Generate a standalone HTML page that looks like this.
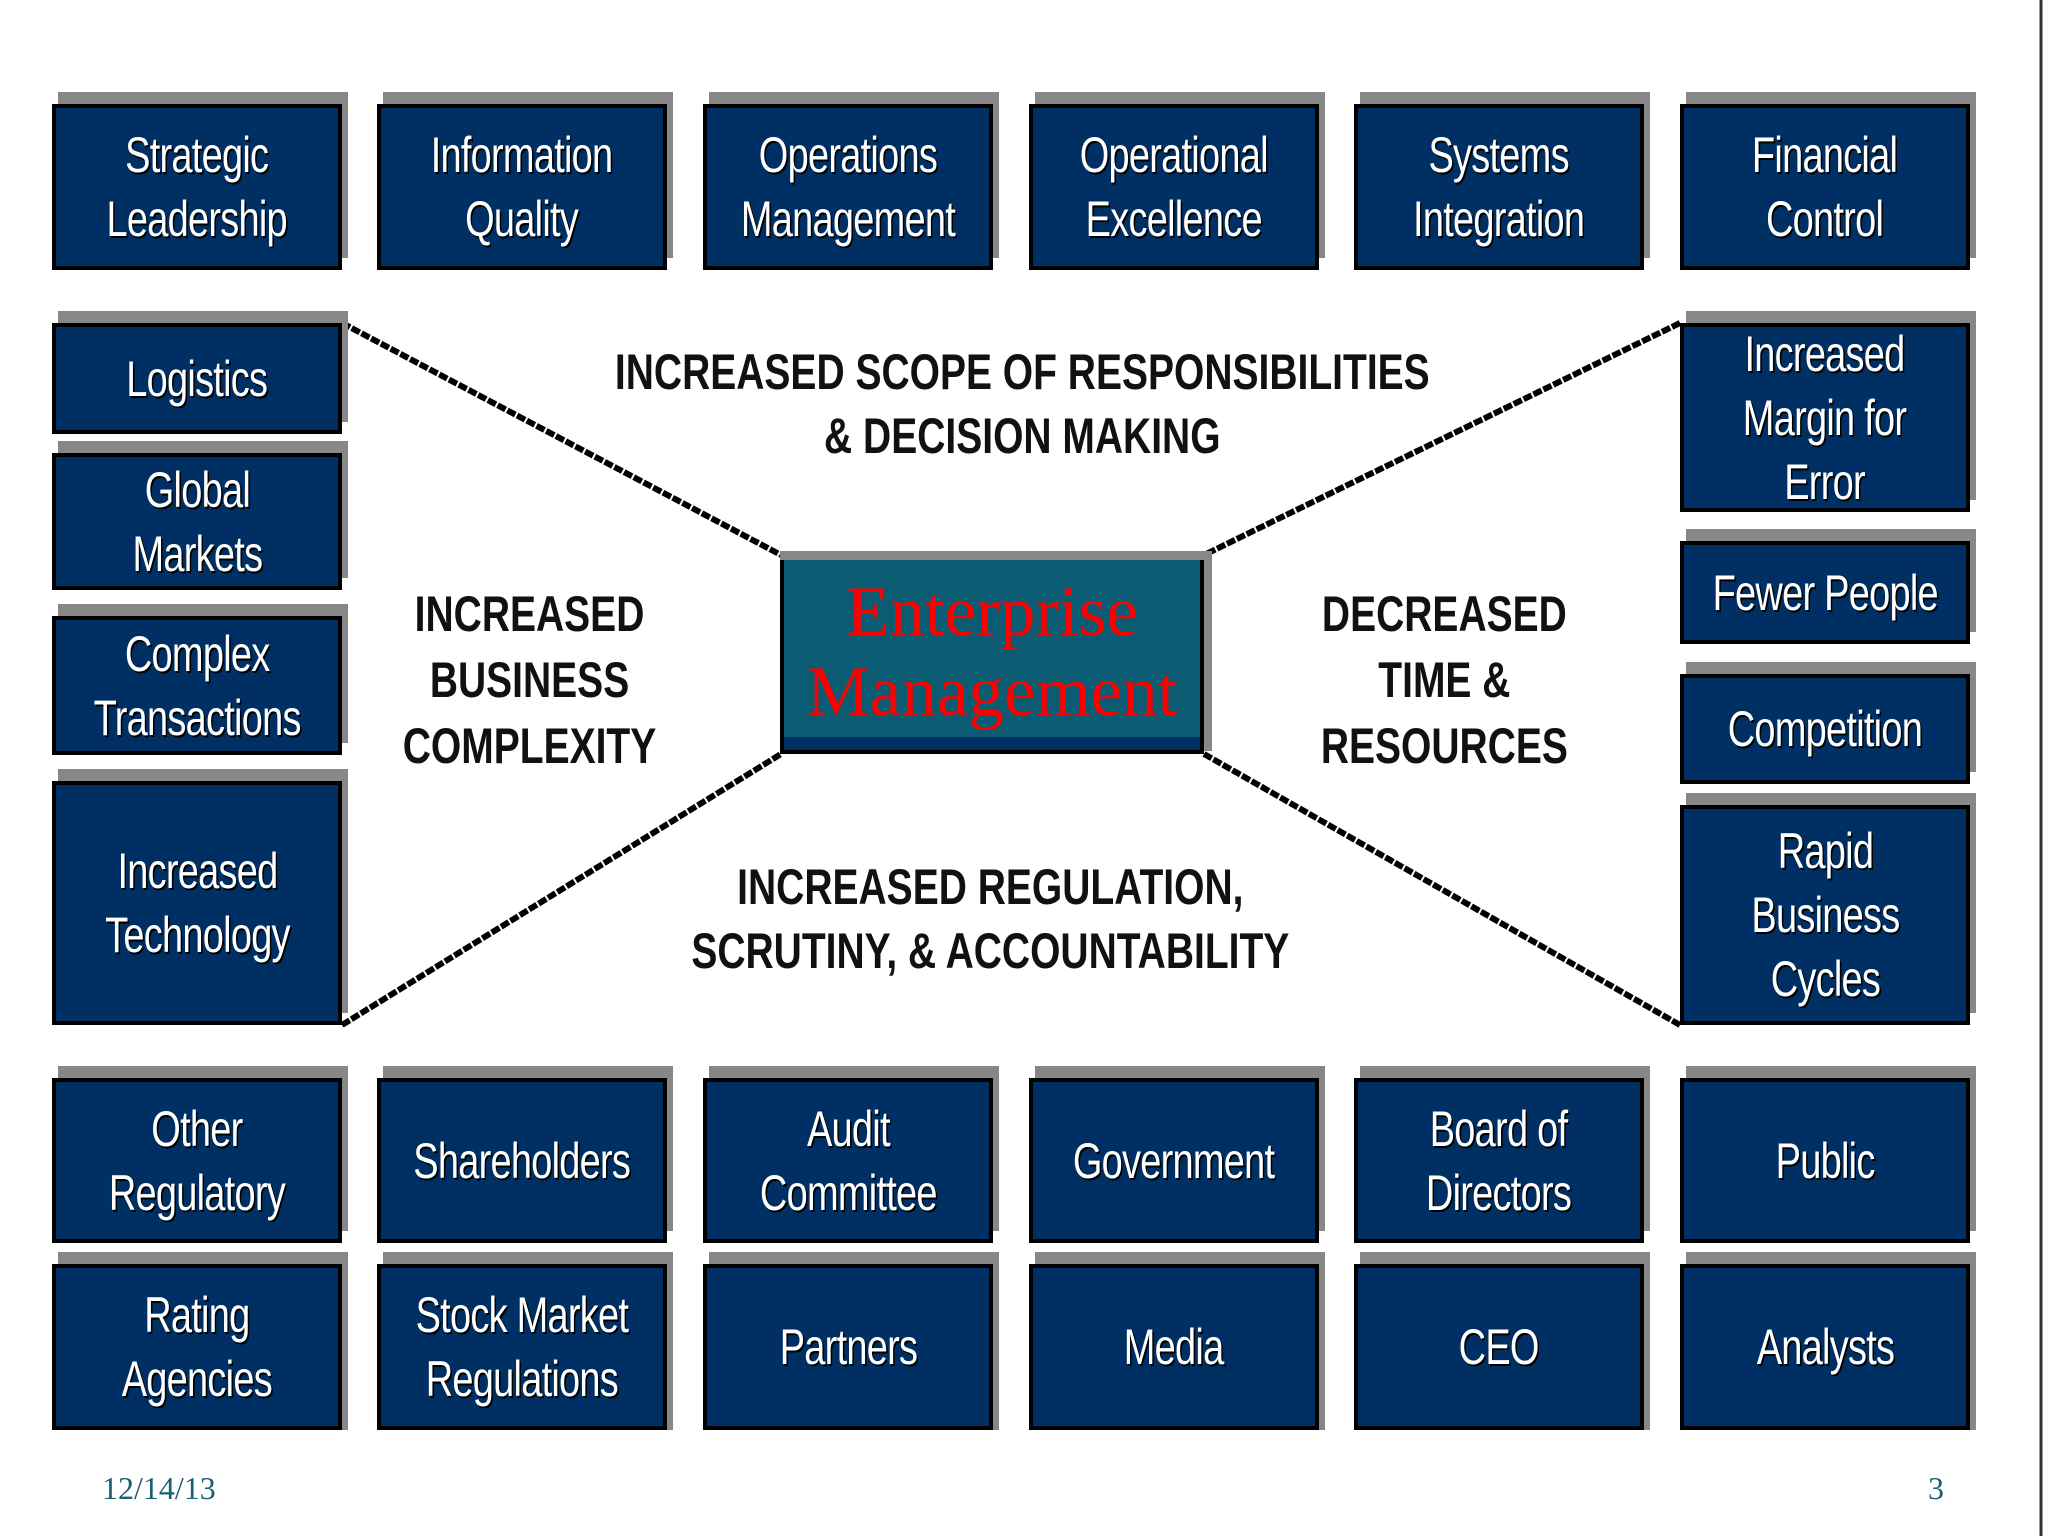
<!DOCTYPE html>
<html><head><meta charset="utf-8">
<style>
html,body{margin:0;padding:0;background:#fff;}
#c{position:relative;width:2048px;height:1536px;overflow:hidden;background:#fff;}
.sh{position:absolute;background:#878787;}
.b{position:absolute;background:#003063;border:4px solid #000;box-sizing:border-box;display:flex;align-items:center;justify-content:center;text-align:center;}
.b span{display:block;color:#fff;font-family:"Liberation Sans",sans-serif;font-size:50px;line-height:64px;transform:scaleX(0.76);white-space:nowrap;text-shadow:2px 2px 0 #000;letter-spacing:-1px;}
.h{position:absolute;font-family:"Liberation Sans",sans-serif;font-weight:bold;color:#111;text-align:center;white-space:nowrap;font-size:50px;line-height:64px;}
.h span{display:inline-block;transform:scaleX(0.78);}
</style></head><body><div id="c">
<svg width="2048" height="1536" style="position:absolute;left:0;top:0">
<g stroke="#000" stroke-width="6" fill="none" stroke-dasharray="9 2">
<line x1="342" y1="323" x2="781" y2="555"/>
<line x1="342" y1="1025" x2="781" y2="754"/>
<line x1="1680" y1="323" x2="1204" y2="555"/>
<line x1="1680" y1="1025" x2="1204" y2="754"/>
</g>
<line x1="2041" y1="0" x2="2041" y2="1536" stroke="#333" stroke-width="3"/>
</svg>

<div class="sh" style="left:58px;top:92px;width:290px;height:166px"></div><div class="b" style="left:52px;top:104px;width:290px;height:166px"><span>Strategic<br>Leadership</span></div>
<div class="sh" style="left:383px;top:92px;width:290px;height:166px"></div><div class="b" style="left:377px;top:104px;width:290px;height:166px"><span>Information<br>Quality</span></div>
<div class="sh" style="left:709px;top:92px;width:290px;height:166px"></div><div class="b" style="left:703px;top:104px;width:290px;height:166px"><span>Operations<br>Management</span></div>
<div class="sh" style="left:1035px;top:92px;width:290px;height:166px"></div><div class="b" style="left:1029px;top:104px;width:290px;height:166px"><span>Operational<br>Excellence</span></div>
<div class="sh" style="left:1360px;top:92px;width:290px;height:166px"></div><div class="b" style="left:1354px;top:104px;width:290px;height:166px"><span>Systems<br>Integration</span></div>
<div class="sh" style="left:1686px;top:92px;width:290px;height:166px"></div><div class="b" style="left:1680px;top:104px;width:290px;height:166px"><span>Financial<br>Control</span></div>

<div class="sh" style="left:58px;top:311px;width:290px;height:111px"></div><div class="b" style="left:52px;top:323px;width:290px;height:111px"><span>Logistics</span></div>
<div class="sh" style="left:58px;top:441px;width:290px;height:137px"></div><div class="b" style="left:52px;top:453px;width:290px;height:137px"><span>Global<br>Markets</span></div>
<div class="sh" style="left:58px;top:604px;width:290px;height:139px"></div><div class="b" style="left:52px;top:616px;width:290px;height:139px"><span>Complex<br>Transactions</span></div>
<div class="sh" style="left:58px;top:769px;width:290px;height:244px"></div><div class="b" style="left:52px;top:781px;width:290px;height:244px"><span>Increased<br>Technology</span></div>

<div class="sh" style="left:1686px;top:311px;width:290px;height:189px"></div><div class="b" style="left:1680px;top:323px;width:290px;height:189px"><span>Increased<br>Margin for<br>Error</span></div>
<div class="sh" style="left:1686px;top:529px;width:290px;height:103px"></div><div class="b" style="left:1680px;top:541px;width:290px;height:103px"><span>Fewer People</span></div>
<div class="sh" style="left:1686px;top:662px;width:290px;height:110px"></div><div class="b" style="left:1680px;top:674px;width:290px;height:110px"><span>Competition</span></div>
<div class="sh" style="left:1686px;top:793px;width:290px;height:220px"></div><div class="b" style="left:1680px;top:805px;width:290px;height:220px"><span>Rapid<br>Business<br>Cycles</span></div>

<div class="sh" style="left:58px;top:1066px;width:290px;height:165px"></div><div class="b" style="left:52px;top:1078px;width:290px;height:165px"><span>Other<br>Regulatory</span></div>
<div class="sh" style="left:383px;top:1066px;width:290px;height:165px"></div><div class="b" style="left:377px;top:1078px;width:290px;height:165px"><span>Shareholders</span></div>
<div class="sh" style="left:709px;top:1066px;width:290px;height:165px"></div><div class="b" style="left:703px;top:1078px;width:290px;height:165px"><span>Audit<br>Committee</span></div>
<div class="sh" style="left:1035px;top:1066px;width:290px;height:165px"></div><div class="b" style="left:1029px;top:1078px;width:290px;height:165px"><span>Government</span></div>
<div class="sh" style="left:1360px;top:1066px;width:290px;height:165px"></div><div class="b" style="left:1354px;top:1078px;width:290px;height:165px"><span>Board of<br>Directors</span></div>
<div class="sh" style="left:1686px;top:1066px;width:290px;height:165px"></div><div class="b" style="left:1680px;top:1078px;width:290px;height:165px"><span>Public</span></div>

<div class="sh" style="left:58px;top:1252px;width:290px;height:178px"></div><div class="b" style="left:52px;top:1264px;width:290px;height:166px"><span>Rating<br>Agencies</span></div>
<div class="sh" style="left:383px;top:1252px;width:290px;height:178px"></div><div class="b" style="left:377px;top:1264px;width:290px;height:166px"><span>Stock Market<br>Regulations</span></div>
<div class="sh" style="left:709px;top:1252px;width:290px;height:178px"></div><div class="b" style="left:703px;top:1264px;width:290px;height:166px"><span>Partners</span></div>
<div class="sh" style="left:1035px;top:1252px;width:290px;height:178px"></div><div class="b" style="left:1029px;top:1264px;width:290px;height:166px"><span>Media</span></div>
<div class="sh" style="left:1360px;top:1252px;width:290px;height:178px"></div><div class="b" style="left:1354px;top:1264px;width:290px;height:166px"><span>CEO</span></div>
<div class="sh" style="left:1686px;top:1252px;width:290px;height:178px"></div><div class="b" style="left:1680px;top:1264px;width:290px;height:166px"><span>Analysts</span></div>

<div style="position:absolute;left:780px;top:551px;width:432px;height:200px;background:#878787"></div>
<div style="position:absolute;left:780px;top:560px;width:424px;height:194px;background:#0b5b73;border:4px solid #000;border-top:none;box-sizing:border-box"></div>
<div style="position:absolute;left:784px;top:737px;width:416px;height:13px;background:#003063"></div>
<div style="position:absolute;left:780px;top:572px;width:424px;text-align:center;font-family:'Liberation Serif',serif;color:#f00;font-size:71px;line-height:80px;">Enterprise<br>Management</div>

<div class="h" style="left:500px;top:340px;width:1000px"><span>INCREASED SCOPE OF RESPONSIBILITIES<br>&amp; DECISION MAKING</span></div>
<div class="h" style="left:330px;top:581px;width:400px;line-height:66px"><span>INCREASED<br>BUSINESS<br>COMPLEXITY</span></div>
<div class="h" style="left:1244px;top:581px;width:400px;line-height:66px"><span>DECREASED<br>TIME &amp;<br>RESOURCES</span></div>
<div class="h" style="left:490px;top:855px;width:1000px"><span>INCREASED REGULATION,<br>SCRUTINY, &amp; ACCOUNTABILITY</span></div>

<div style="position:absolute;left:102px;top:1470px;font-family:'Liberation Serif',serif;font-size:32px;color:#1a5f73">12/14/13</div>
<div style="position:absolute;left:1928px;top:1470px;font-family:'Liberation Serif',serif;font-size:32px;color:#1a5f73">3</div>
</div></body></html>
